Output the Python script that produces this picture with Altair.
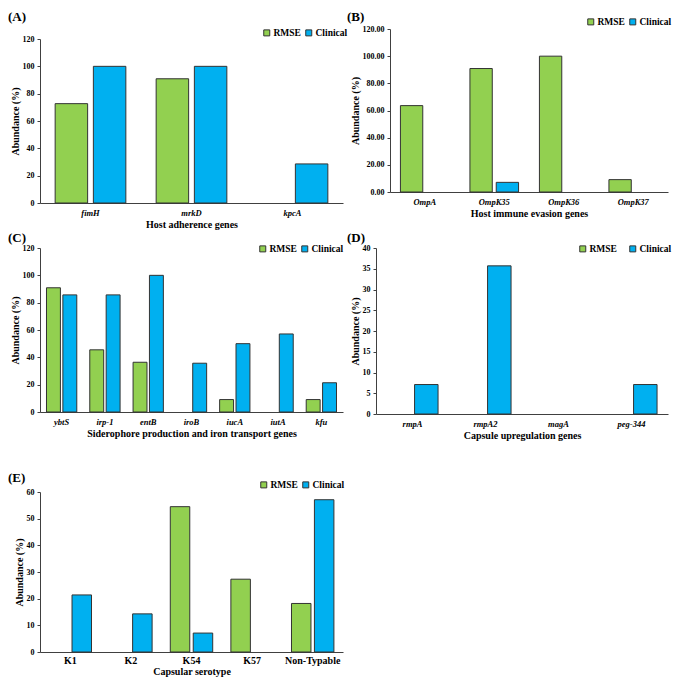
import altair as alt
import pandas as pd

series = ["RMSE", "Clinical"]
colors = ["#92D050", "#00B0F0"]

a_genes = ["fimH", "mrkD", "kpcA"]
a_rmse = [72.7, 90.9, 0]
a_clin = [100, 100, 28.6]

b_genes = ["OmpA", "OmpK35", "OmpK36", "OmpK37"]
b_rmse = [63.6, 90.9, 100, 9.1]
b_clin = [0, 7.1, 0, 0]

c_genes = ["ybtS", "irp-1", "entB", "iroB", "iucA", "iutA", "kfu"]
c_rmse = [90.9, 45.5, 36.4, 0, 9.1, 0, 9.1]
c_clin = [85.7, 85.7, 100, 35.7, 50, 57.1, 21.4]

d_genes = ["rmpA", "rmpA2", "magA", "peg-344"]
d_rmse = [0, 0, 0, 0]
d_clin = [7.1, 35.7, 0, 7.1]

e_types = ["K1", "K2", "K54", "K57", "Non-Typable"]
e_rmse = [0, 0, 54.5, 27.3, 18.2]
e_clin = [21.4, 14.3, 7.1, 0, 57.1]

FONT = "Liberation Serif"
AXC = "#404040"


def panel(cats, rmse, clin, xtitle, ymax, ystep, yfmt, width, height, top_off, left_off,
          italic, letter, lxy, legxy, colpad, lpad=5, tpad=3):
    n = len(cats)
    df = pd.DataFrame({
        "cat": cats * 2,
        "series": ["RMSE"] * n + ["Clinical"] * n,
        "value": rmse + clin,
    })
    bars = alt.Chart(df).mark_bar(stroke="#333333", strokeWidth=1).encode(
        x=alt.X("cat:N", sort=cats, title=xtitle,
                scale=alt.Scale(domain=cats, paddingInner=0.3, paddingOuter=0.15,
                                range=[left_off, width]),
                axis=alt.Axis(labelAngle=0, ticks=False, domainColor=AXC,
                              labelFont=FONT, titleFont=FONT,
                              labelFontWeight="bold", titleFontWeight="bold",
                              labelColor="black", titleColor="black",
                              labelFontStyle="italic" if italic else "normal",
                              labelFontSize=8.5 if italic else 10,
                              labelPadding=lpad, titlePadding=tpad, titleFontSize=10)),
        xOffset=alt.XOffset("series:N", sort=series,
                            scale=alt.Scale(domain=series, paddingInner=0.15)),
        y=alt.Y("value:Q", title="Abundance (%)",
                scale=alt.Scale(domain=[0, ymax], range=[height, top_off], nice=False),
                axis=alt.Axis(values=list(range(0, ymax + 1, ystep)), format=yfmt,
                              labelFont=FONT, titleFont=FONT,
                              labelFontWeight="bold", titleFontWeight="bold",
                              labelColor="black", titleColor="black",
                              grid=False, tickSize=3, tickColor=AXC, domainColor=AXC,
                              labelFontSize=8, labelPadding=3, titlePadding=2,
                              titleFontSize=10, offset=-left_off)),
        color=alt.Color("series:N", sort=series,
                        scale=alt.Scale(domain=series, range=colors),
                        legend=alt.Legend(title=None, orient="none", direction="horizontal",
                                          legendX=legxy[0], legendY=legxy[1],
                                          padding=0,
                                          symbolType="square", symbolSize=36,
                                          symbolStrokeColor="#333333", symbolStrokeWidth=1,
                                          labelFont=FONT, labelFontWeight="bold",
                                          labelColor="black",
                                          labelFontSize=9.5, columnPadding=colpad,
                                          labelOffset=2)),
    ).transform_filter("datum.value > 0")
    lab = alt.Chart(pd.DataFrame({"t": [letter]})).mark_text(
        font=FONT, fontWeight="bold", fontSize=13, align="left", baseline="top",
        color="black",
    ).encode(text="t:N", x=alt.value(lxy[0]), y=alt.value(lxy[1]))
    return alt.layer(bars, lab).properties(width=width, height=height)


pA = panel(a_genes, a_rmse, a_clin, "Host adherence genes", 120, 20, "d",
           303, 174, 10, 0, True, "(A)", (-32, -18), (222, -1), 2)
pB = panel(b_genes, b_rmse, b_clin, "Host immune evasion genes", 120, 20, ".2f",
           292, 163, 0, 14, True, "(B)", (-29, -18), (210, -12), 2)
pC = panel(c_genes, c_rmse, c_clin, "Siderophore production and iron transport genes",
           120, 20, "d", 303, 164, 0, 0, True, "(C)", (-32, -16), (218, -4), 2)
pD = panel(d_genes, d_rmse, d_clin, "Capsule upregulation genes", 40, 5, "d",
           292, 166, 0, 0, True, "(D)", (-29, -16), (202, -4), 10)
pE = panel(e_types, e_rmse, e_clin, "Capsular serotype", 60, 10, "d",
           303, 193, 33, 0, False, "(E)", (-32, 13), (219, 21), 2, lpad=3, tpad=1)

chart = alt.concat(
    pA, pB, pC, pD, pE, columns=2, bounds="flush",
    spacing={"row": 45, "column": 33},
).resolve_scale(
    color="independent", xOffset="independent", x="independent", y="independent"
).properties(
    padding={"left": 0, "top": 3, "right": 0, "bottom": 2},
    background="white",
).configure_view(stroke=None)

chart.save("out.html", embed_options={"renderer": "svg", "actions": False})
